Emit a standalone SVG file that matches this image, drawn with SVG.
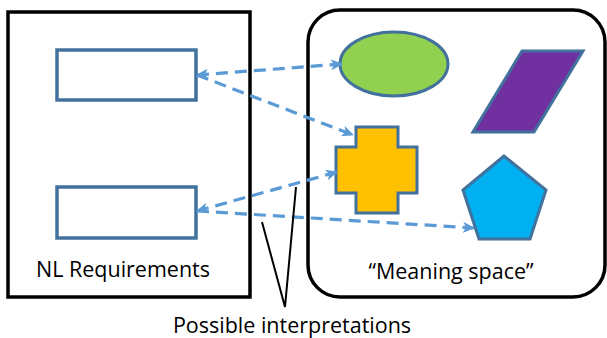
<svg xmlns="http://www.w3.org/2000/svg" width="607" height="338" viewBox="0 0 607 338">
  <style>
    .frame { fill: #ffffff; stroke: #000000; stroke-width: 3.5; }
    .req { fill: #ffffff; stroke: #41719C; stroke-width: 3.5; }
    .shape { stroke: #41719C; stroke-width: 3; stroke-linejoin: miter; }
    .link { fill: none; stroke: #5B9BD5; stroke-width: 3.2; stroke-dasharray: 12 7; }
    .pointer { fill: none; stroke: #000000; stroke-width: 2; }
    .label { font-family: "Open Sans", "Liberation Sans", sans-serif; font-size: 21.5px; fill: #000000; text-anchor: middle; }
  </style>
  <defs>
    <marker id="head" viewBox="0 0 12 11" refX="11" refY="5.5" markerWidth="12" markerHeight="11" markerUnits="userSpaceOnUse" orient="auto-start-reverse">
      <path d="M0,0 L12,5.5 L0,11 L3,5.5 z" fill="#5B9BD5"/>
    </marker>
  </defs>

  <!-- requirements panel -->
  <g id="nl-requirements">
    <rect class="frame" x="8" y="12" width="242" height="285"/>
    <text class="label" x="123" y="277">NL Requirements</text>
  </g>
  <g id="req-top">
    <rect class="req" x="57" y="50" width="139" height="50"/>
  </g>
  <g id="req-bottom">
    <rect class="req" x="57" y="187" width="139" height="51"/>
  </g>

  <!-- meaning space panel -->
  <g id="meaning-space">
    <rect class="frame" x="308" y="10" width="297" height="287" rx="32" ry="32"/>
    <text class="label" x="451" y="279">“Meaning space”</text>
  </g>
  <g id="ellipse">
    <ellipse class="shape" cx="394" cy="64" rx="54" ry="32" fill="#92D050"/>
  </g>
  <g id="parallelogram">
    <polygon class="shape" points="522,51 583,51 534,132 473,132" fill="#7030A0"/>
  </g>
  <g id="cross">
    <polygon class="shape" points="356,127 398,127 398,147 417,147 417,193 398,193 398,213 356,213 356,193 336,193 336,147 356,147" fill="#FFC000"/>
  </g>
  <g id="pentagon">
    <polygon class="shape" points="504,156 546,190 530,239 479,239 463,190" fill="#00B0F0"/>
  </g>

  <!-- interpretation connectors -->
  <g id="connectors">
    <line class="link" x1="197" y1="75" x2="342" y2="64" marker-start="url(#head)" marker-end="url(#head)"/>
    <line class="link" x1="197" y1="75" x2="353" y2="135" marker-end="url(#head)"/>
    <line class="link" x1="197" y1="211" x2="337" y2="172" marker-start="url(#head)" marker-end="url(#head)"/>
    <line class="link" x1="197" y1="211" x2="474" y2="228" marker-end="url(#head)"/>
    <polyline class="pointer" points="262,222 285,307 296,187"/>
  </g>

  <g id="interpretations-label">
    <text class="label" x="292" y="333">Possible interpretations</text>
  </g>
</svg>
